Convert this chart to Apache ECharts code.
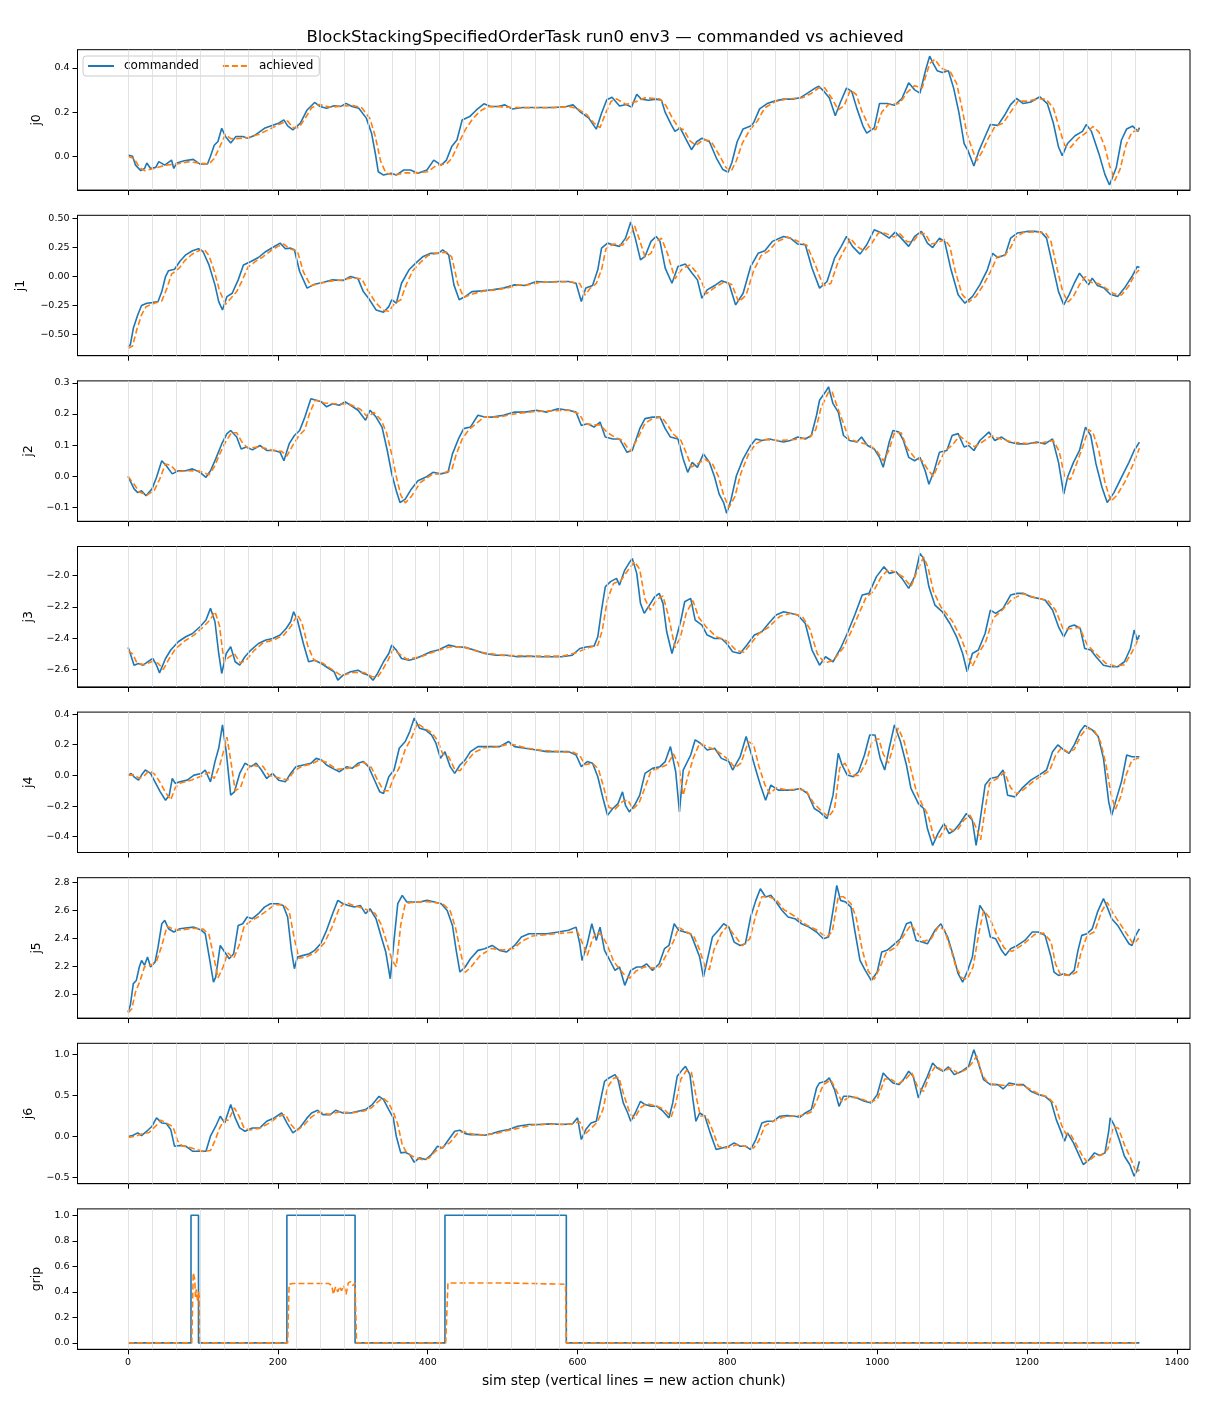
<!DOCTYPE html>
<html>
<head>
<meta charset="utf-8">
<script src="https://cdn.jsdelivr.net/npm/echarts@6.0.0/dist/echarts.min.js"></script>
<style>
  html, body { margin: 0; padding: 0; background: #fff; }
  #chart { width: 1210px; height: 1408px; }
</style>
</head>
<body>
<div id="chart"></div>
<script>
// values, [sim step, value]
var panelNames = ['j0', 'j1', 'j2', 'j3', 'j4', 'j5', 'j6', 'grip'];
var xTicks = [0, 200, 400, 600, 800, 1000, 1200, 1400];
var chunkStarts = [0, 32, 64, 96, 128, 160, 192, 224, 256, 288, 320, 352, 384, 416, 448, 480, 512, 544, 576, 608, 640, 672, 704, 736, 768, 800, 832, 864, 896, 928, 960, 992, 1024, 1056, 1088, 1120, 1152, 1184, 1216, 1248, 1280, 1312, 1344];

var yTicks = [
  [0, 0.2, 0.4],
  [-0.5, -0.25, 0, 0.25, 0.5],
  [-0.1, 0, 0.1, 0.2, 0.3],
  [-2.6, -2.4, -2.2, -2.0],
  [-0.4, -0.2, 0, 0.2, 0.4],
  [2.0, 2.2, 2.4, 2.6, 2.8],
  [-0.5, 0, 0.5, 1.0],
  [0, 0.2, 0.4, 0.6, 0.8, 1.0]
];
var yLimits = [
  [-0.153, 0.483],
  [-0.683, 0.528],
  [-0.144, 0.306],
  [-2.712, -1.813],
  [-0.503, 0.413],
  [1.833, 2.836],
  [-0.573, 1.134],
  [-0.05, 1.05]
];

var cmdJ0 = [[0,0.006],[6,0],[10,-0.04],[17,-0.065],[22,-0.055],[25,-0.03],[30,-0.055],[37,-0.05],[41,-0.024],[49,-0.04],[58,-0.017],[61,-0.055],[65,-0.03],[75,-0.02],[87,-0.014],[96,-0.035],[106,-0.035],[110,0],[115,0.05],[120,0.067],[125,0.127],[130,0.09],[137,0.06],[144,0.09],[153,0.09],[160,0.082],[170,0.097],[182,0.127],[194,0.142],[201,0.15],[208,0.165],[213,0.138],[220,0.12],[230,0.15],[239,0.21],[249,0.244],[256,0.226],[265,0.218],[275,0.229],[284,0.226],[291,0.24],[299,0.226],[308,0.218],[318,0.173],[325,0.105],[330,0.014],[334,-0.07],[341,-0.085],[351,-0.077],[358,-0.085],[368,-0.062],[377,-0.062],[387,-0.077],[399,-0.062],[408,-0.017],[418,-0.04],[425,-0.017],[432,0.044],[439,0.074],[446,0.165],[456,0.18],[465,0.21],[475,0.238],[484,0.226],[494,0.226],[503,0.233],[513,0.214],[527,0.221],[541,0.221],[556,0.221],[570,0.221],[585,0.226],[594,0.233],[603,0.203],[615,0.173],[625,0.123],[632,0.195],[639,0.256],[646,0.268],[656,0.228],[665,0.235],[672,0.223],[679,0.281],[685,0.259],[695,0.254],[705,0.259],[712,0.254],[717,0.199],[725,0.144],[730,0.113],[737,0.129],[744,0.082],[752,0.03],[759,0.066],[766,0.082],[776,0.066],[786,-0.013],[794,-0.06],[801,-0.072],[806,-0.028],[813,0.066],[821,0.124],[831,0.137],[835,0.152],[843,0.215],[853,0.239],[863,0.25],[875,0.259],[887,0.259],[897,0.265],[907,0.286],[917,0.309],[922,0.317],[929,0.294],[936,0.265],[944,0.184],[951,0.246],[959,0.309],[966,0.294],[973,0.215],[981,0.137],[986,0.105],[996,0.129],[1003,0.239],[1013,0.239],[1023,0.231],[1033,0.262],[1042,0.333],[1050,0.301],[1057,0.286],[1065,0.396],[1070,0.454],[1075,0.419],[1080,0.388],[1087,0.38],[1095,0.388],[1102,0.309],[1109,0.199],[1116,0.058],[1121,0.027],[1129,-0.044],[1136,0.027],[1143,0.082],[1151,0.144],[1161,0.14],[1171,0.192],[1178,0.234],[1186,0.262],[1195,0.239],[1205,0.246],[1217,0.27],[1227,0.239],[1235,0.152],[1242,0.042],[1247,0.003],[1254,0.058],[1264,0.093],[1274,0.113],[1279,0.144],[1286,0.113],[1296,0.011],[1304,-0.083],[1310,-0.13],[1319,-0.052],[1326,0.074],[1333,0.124],[1341,0.137],[1348,0.113],[1350,0.13]];
var achJ0 = [[0,0],[8,-0.01],[15,-0.05],[22,-0.065],[35,-0.055],[50,-0.04],[65,-0.035],[80,-0.025],[95,-0.03],[108,-0.035],[115,-0.01],[122,0.04],[130,0.1],[137,0.08],[145,0.08],[160,0.085],[175,0.1],[190,0.125],[205,0.15],[213,0.16],[220,0.13],[228,0.13],[236,0.17],[245,0.22],[255,0.235],[270,0.222],[285,0.228],[300,0.23],[312,0.22],[323,0.17],[330,0.09],[337,-0.02],[344,-0.075],[355,-0.085],[370,-0.075],[385,-0.075],[400,-0.07],[412,-0.04],[425,-0.035],[432,-0.01],[440,0.05],[450,0.12],[460,0.17],[470,0.205],[480,0.225],[495,0.225],[510,0.222],[530,0.22],[560,0.22],[590,0.225],[600,0.215],[612,0.19],[622,0.15],[630,0.13],[638,0.2],[645,0.25],[652,0.26],[665,0.235],[680,0.25],[690,0.265],[710,0.26],[718,0.23],[727,0.17],[735,0.13],[742,0.12],[750,0.07],[758,0.05],[768,0.075],[778,0.07],[790,0.0],[798,-0.05],[805,-0.068],[812,-0.02],[820,0.06],[830,0.12],[840,0.16],[850,0.22],[865,0.25],[880,0.26],[900,0.265],[912,0.285],[922,0.31],[930,0.31],[940,0.26],[948,0.21],[956,0.23],[964,0.3],[972,0.28],[980,0.2],[990,0.13],[998,0.12],[1006,0.2],[1015,0.235],[1030,0.24],[1040,0.29],[1050,0.32],[1060,0.31],[1070,0.42],[1077,0.44],[1085,0.4],[1098,0.38],[1106,0.33],[1113,0.22],[1120,0.1],[1127,0.03],[1133,-0.02],[1140,0.02],[1148,0.08],[1157,0.135],[1168,0.15],[1178,0.2],[1188,0.25],[1200,0.25],[1215,0.26],[1225,0.26],[1235,0.22],[1242,0.14],[1250,0.05],[1258,0.04],[1268,0.08],[1280,0.11],[1288,0.135],[1296,0.11],[1304,0.04],[1310,-0.04],[1317,-0.11],[1324,-0.06],[1332,0.05],[1340,0.11],[1350,0.12]];

var cmdJ1 = [[0,-0.605],[3,-0.59],[7,-0.447],[13,-0.33],[18,-0.25],[25,-0.23],[32,-0.225],[40,-0.216],[45,-0.13],[50,0],[54,0.05],[62,0.063],[69,0.13],[77,0.187],[86,0.222],[94,0.24],[100,0.216],[108,0.1],[116,-0.072],[121,-0.216],[126,-0.288],[132,-0.173],[139,-0.144],[147,-0.029],[154,0.1],[164,0.13],[174,0.164],[184,0.216],[193,0.25],[203,0.288],[210,0.24],[217,0.245],[222,0.23],[229,0.043],[239,-0.1],[249,-0.066],[261,-0.049],[273,-0.029],[287,-0.035],[297,0],[307,-0.02],[314,-0.13],[321,-0.187],[331,-0.288],[341,-0.308],[348,-0.26],[352,-0.2],[358,-0.23],[365,-0.058],[375,0.058],[384,0.115],[394,0.173],[404,0.2],[414,0.2],[420,0.23],[428,0.187],[435,-0.072],[442,-0.2],[450,-0.173],[459,-0.13],[472,-0.124],[486,-0.115],[501,-0.1],[516,-0.072],[530,-0.078],[545,-0.043],[559,-0.049],[574,-0.043],[588,-0.043],[598,-0.058],[605,-0.216],[611,-0.1],[620,-0.078],[627,0.058],[632,0.245],[640,0.288],[647,0.274],[656,0.26],[664,0.331],[671,0.47],[677,0.331],[684,0.144],[690,0.173],[698,0.303],[705,0.346],[710,0.303],[717,0.072],[726,-0.058],[734,0.086],[744,0.107],[753,0.029],[760,-0.029],[766,-0.187],[773,-0.115],[783,-0.078],[792,-0.037],[802,-0.058],[811,-0.245],[821,-0.144],[831,0.086],[841,0.2],[850,0.222],[860,0.303],[875,0.346],[884,0.331],[894,0.28],[904,0.274],[913,0.072],[923,-0.1],[933,-0.043],[943,0.158],[952,0.26],[959,0.346],[967,0.26],[977,0.193],[986,0.274],[996,0.403],[1006,0.375],[1016,0.331],[1024,0.383],[1032,0.331],[1042,0.26],[1050,0.346],[1059,0.389],[1067,0.288],[1074,0.25],[1083,0.331],[1090,0.303],[1098,0.072],[1108,-0.158],[1117,-0.23],[1127,-0.173],[1137,-0.072],[1147,0.058],[1154,0.2],[1161,0.164],[1171,0.187],[1178,0.331],[1187,0.375],[1200,0.389],[1210,0.389],[1219,0.383],[1226,0.331],[1234,0.1],[1242,-0.13],[1249,-0.245],[1256,-0.158],[1263,-0.058],[1270,0.029],[1277,-0.029],[1282,-0.072],[1287,-0.014],[1294,-0.078],[1303,-0.1],[1311,-0.153],[1321,-0.173],[1330,-0.1],[1340,0],[1347,0.086],[1350,0.078]];
var achJ1 = [[0,-0.62],[6,-0.6],[12,-0.45],[18,-0.33],[24,-0.26],[35,-0.23],[45,-0.21],[52,-0.1],[58,0.02],[68,0.07],[76,0.14],[85,0.19],[95,0.225],[102,0.23],[108,0.18],[115,0.05],[122,-0.12],[130,-0.24],[137,-0.19],[145,-0.13],[152,-0.04],[160,0.08],[170,0.13],[180,0.17],[190,0.22],[200,0.26],[208,0.28],[215,0.24],[226,0.22],[234,0.04],[244,-0.08],[255,-0.06],[270,-0.04],[285,-0.03],[300,-0.01],[312,-0.02],[320,-0.12],[330,-0.22],[340,-0.29],[348,-0.3],[356,-0.23],[364,-0.2],[372,-0.06],[380,0.05],[390,0.12],[400,0.18],[412,0.2],[425,0.21],[432,0.17],[440,-0.06],[448,-0.18],[460,-0.15],[475,-0.125],[490,-0.115],[505,-0.1],[520,-0.075],[535,-0.07],[550,-0.05],[570,-0.047],[590,-0.045],[603,-0.06],[610,-0.16],[617,-0.1],[625,-0.06],[632,0.06],[638,0.24],[648,0.28],[660,0.27],[670,0.35],[676,0.44],[682,0.33],[690,0.17],[698,0.2],[705,0.3],[712,0.33],[720,0.2],[730,-0.02],[740,0.07],[750,0.1],[758,0.04],[766,-0.05],[772,-0.15],[782,-0.1],[795,-0.05],[806,-0.07],[815,-0.22],[825,-0.16],[835,0.05],[845,0.18],[855,0.22],[866,0.3],[880,0.34],[892,0.31],[906,0.27],[918,0.09],[928,-0.08],[938,-0.06],[948,0.13],[957,0.24],[964,0.33],[973,0.26],[983,0.22],[992,0.28],[1002,0.38],[1012,0.37],[1022,0.34],[1030,0.37],[1040,0.3],[1048,0.3],[1056,0.37],[1064,0.37],[1072,0.28],[1080,0.29],[1090,0.32],[1097,0.26],[1104,0.05],[1113,-0.15],[1122,-0.22],[1132,-0.17],[1142,-0.07],[1152,0.05],[1160,0.17],[1170,0.18],[1178,0.25],[1185,0.34],[1195,0.38],[1210,0.385],[1225,0.375],[1232,0.3],[1240,0.07],[1248,-0.14],[1255,-0.22],[1262,-0.17],[1270,-0.07],[1278,0],[1285,-0.05],[1295,-0.06],[1305,-0.1],[1316,-0.15],[1326,-0.16],[1336,-0.08],[1344,0.02],[1350,0.06]];

var cmdJ2 = [[0,0],[4,-0.02],[8,-0.04],[13,-0.052],[18,-0.046],[24,-0.062],[32,-0.04],[38,-0.003],[45,0.05],[51,0.034],[59,0.008],[67,0.018],[77,0.018],[86,0.024],[96,0.013],[104,-0.003],[110,0.018],[117,0.056],[125,0.104],[132,0.137],[137,0.147],[145,0.126],[151,0.088],[158,0.094],[166,0.085],[176,0.099],[185,0.083],[195,0.083],[203,0.077],[208,0.05],[215,0.104],[222,0.131],[229,0.147],[236,0.19],[244,0.249],[251,0.244],[258,0.239],[265,0.223],[273,0.233],[282,0.228],[290,0.239],[297,0.228],[307,0.212],[317,0.18],[323,0.212],[331,0.19],[339,0.158],[346,0.083],[352,0.008],[358,-0.046],[363,-0.084],[370,-0.073],[378,-0.041],[387,-0.014],[397,-0.003],[407,0.013],[417,0.008],[427,0.013],[433,0.072],[441,0.12],[448,0.153],[457,0.158],[467,0.196],[476,0.19],[486,0.19],[501,0.196],[516,0.206],[530,0.206],[545,0.212],[559,0.206],[574,0.217],[588,0.212],[598,0.206],[605,0.163],[613,0.169],[622,0.158],[630,0.174],[637,0.126],[647,0.12],[656,0.12],[666,0.077],[673,0.083],[683,0.153],[690,0.185],[700,0.19],[710,0.19],[717,0.153],[724,0.126],[734,0.12],[741,0.056],[747,0.013],[753,0.045],[760,0.029],[768,0.072],[776,0.045],[783,-0.003],[789,-0.057],[795,-0.084],[799,-0.118],[805,-0.073],[812,0.002],[821,0.056],[831,0.099],[838,0.12],[846,0.115],[856,0.12],[865,0.115],[875,0.11],[884,0.115],[894,0.126],[904,0.12],[912,0.131],[919,0.196],[923,0.244],[931,0.271],[935,0.287],[941,0.233],[948,0.206],[955,0.131],[963,0.115],[973,0.11],[979,0.126],[987,0.099],[996,0.088],[1003,0.061],[1008,0.029],[1016,0.11],[1021,0.147],[1029,0.142],[1035,0.115],[1042,0.061],[1050,0.05],[1057,0.061],[1064,0.018],[1069,-0.025],[1076,0.018],[1083,0.077],[1093,0.083],[1100,0.131],[1108,0.137],[1116,0.094],[1122,0.099],[1129,0.083],[1137,0.115],[1149,0.142],[1157,0.115],[1166,0.126],[1176,0.11],[1188,0.104],[1200,0.104],[1213,0.11],[1224,0.104],[1234,0.12],[1242,0.045],[1249,-0.057],[1254,-0.003],[1262,0.045],[1270,0.083],[1278,0.158],[1285,0.131],[1292,0.04],[1300,-0.035],[1307,-0.084],[1316,-0.052],[1326,-0.003],[1336,0.045],[1343,0.083],[1350,0.11]];
var achJ2 = [[0,0],[8,-0.025],[15,-0.05],[25,-0.06],[35,-0.045],[42,-0.01],[50,0.04],[57,0.035],[65,0.015],[80,0.018],[95,0.017],[108,0.005],[115,0.03],[122,0.07],[130,0.11],[138,0.14],[145,0.14],[152,0.11],[160,0.09],[175,0.095],[190,0.085],[205,0.08],[212,0.065],[220,0.1],[228,0.13],[236,0.15],[242,0.2],[250,0.245],[262,0.235],[280,0.232],[295,0.232],[310,0.215],[320,0.19],[328,0.205],[338,0.18],[345,0.14],[352,0.07],[358,0],[364,-0.06],[370,-0.085],[378,-0.065],[390,-0.02],[405,0.005],[420,0.01],[432,0.02],[438,0.07],[446,0.12],[455,0.15],[465,0.17],[475,0.19],[495,0.19],[515,0.2],[540,0.207],[565,0.21],[590,0.212],[602,0.2],[610,0.17],[620,0.165],[630,0.165],[640,0.14],[650,0.125],[660,0.115],[670,0.08],[680,0.12],[690,0.17],[700,0.185],[712,0.19],[720,0.165],[728,0.135],[738,0.115],[746,0.07],[752,0.03],[760,0.04],[770,0.055],[780,0.04],[788,0],[795,-0.06],[802,-0.1],[810,-0.065],[818,0.01],[828,0.07],[838,0.105],[850,0.118],[870,0.115],[890,0.118],[910,0.125],[918,0.15],[925,0.22],[935,0.27],[940,0.27],[947,0.22],[955,0.17],[962,0.12],[975,0.11],[990,0.1],[1000,0.08],[1008,0.05],[1015,0.08],[1023,0.14],[1032,0.14],[1040,0.09],[1050,0.06],[1060,0.05],[1068,0.02],[1075,0],[1082,0.04],[1090,0.08],[1100,0.1],[1110,0.13],[1120,0.11],[1130,0.095],[1140,0.11],[1152,0.13],[1165,0.12],[1180,0.11],[1200,0.105],[1220,0.108],[1235,0.115],[1243,0.08],[1250,0],[1258,-0.01],[1266,0.04],[1275,0.1],[1282,0.15],[1288,0.14],[1296,0.08],[1304,-0.02],[1312,-0.08],[1320,-0.06],[1330,-0.02],[1340,0.03],[1350,0.09]];

var cmdJ3 = [[0,-2.459],[3,-2.498],[8,-2.573],[14,-2.562],[20,-2.573],[28,-2.545],[33,-2.53],[38,-2.573],[42,-2.622],[50,-2.53],[57,-2.476],[67,-2.423],[77,-2.391],[86,-2.37],[96,-2.327],[104,-2.284],[110,-2.209],[116,-2.295],[121,-2.498],[125,-2.626],[131,-2.498],[137,-2.455],[143,-2.551],[149,-2.573],[156,-2.519],[164,-2.476],[174,-2.434],[184,-2.412],[193,-2.402],[203,-2.38],[211,-2.338],[217,-2.295],[221,-2.231],[226,-2.284],[234,-2.434],[241,-2.551],[249,-2.541],[258,-2.562],[268,-2.594],[275,-2.615],[280,-2.669],[287,-2.637],[297,-2.615],[307,-2.605],[314,-2.626],[321,-2.637],[327,-2.669],[333,-2.626],[341,-2.551],[348,-2.498],[352,-2.444],[358,-2.476],[365,-2.53],[375,-2.541],[384,-2.53],[394,-2.509],[404,-2.487],[414,-2.476],[428,-2.444],[438,-2.455],[450,-2.459],[462,-2.476],[476,-2.498],[491,-2.509],[505,-2.509],[520,-2.519],[535,-2.515],[549,-2.519],[564,-2.519],[579,-2.519],[593,-2.509],[603,-2.466],[613,-2.455],[622,-2.451],[627,-2.391],[632,-2.22],[637,-2.071],[644,-2.038],[652,-2.017],[656,-2.06],[663,-1.964],[670,-1.91],[673,-1.889],[679,-1.985],[684,-2.177],[689,-2.241],[696,-2.188],[703,-2.135],[709,-2.113],[714,-2.177],[719,-2.359],[726,-2.498],[731,-2.412],[738,-2.284],[743,-2.167],[751,-2.145],[757,-2.284],[766,-2.316],[773,-2.38],[783,-2.402],[792,-2.402],[799,-2.434],[807,-2.487],[817,-2.498],[826,-2.444],[836,-2.38],[846,-2.359],[855,-2.306],[865,-2.252],[875,-2.231],[884,-2.241],[894,-2.252],[904,-2.306],[913,-2.476],[923,-2.573],[931,-2.519],[941,-2.551],[951,-2.466],[960,-2.37],[970,-2.252],[980,-2.124],[989,-2.113],[999,-2.006],[1009,-1.942],[1016,-1.985],[1025,-1.974],[1033,-2.017],[1042,-2.081],[1050,-2.006],[1057,-1.857],[1062,-1.889],[1069,-2.071],[1077,-2.188],[1087,-2.231],[1097,-2.306],[1106,-2.391],[1114,-2.498],[1120,-2.615],[1127,-2.498],[1135,-2.476],[1144,-2.37],[1151,-2.22],[1158,-2.241],[1168,-2.209],[1178,-2.124],[1187,-2.113],[1195,-2.113],[1205,-2.135],[1215,-2.145],[1224,-2.156],[1234,-2.22],[1242,-2.327],[1249,-2.391],[1256,-2.327],[1263,-2.316],[1271,-2.338],[1277,-2.466],[1285,-2.476],[1292,-2.519],[1302,-2.573],[1311,-2.583],[1321,-2.583],[1330,-2.551],[1338,-2.466],[1343,-2.348],[1347,-2.412],[1350,-2.38]];
var achJ3 = [[0,-2.48],[6,-2.5],[12,-2.56],[22,-2.57],[32,-2.55],[40,-2.56],[47,-2.6],[55,-2.53],[63,-2.47],[75,-2.42],[88,-2.38],[100,-2.33],[110,-2.28],[116,-2.23],[122,-2.32],[128,-2.55],[135,-2.52],[142,-2.5],[150,-2.56],[158,-2.54],[168,-2.48],[180,-2.43],[195,-2.41],[208,-2.38],[218,-2.32],[226,-2.25],[232,-2.3],[240,-2.45],[248,-2.54],[260,-2.56],[272,-2.6],[285,-2.64],[300,-2.62],[315,-2.62],[325,-2.645],[333,-2.65],[340,-2.6],[347,-2.54],[354,-2.47],[362,-2.5],[372,-2.535],[390,-2.52],[410,-2.485],[430,-2.455],[450,-2.46],[470,-2.49],[500,-2.51],[540,-2.515],[580,-2.515],[600,-2.49],[615,-2.46],[627,-2.445],[633,-2.35],[640,-2.15],[648,-2.05],[658,-2.03],[668,-1.96],[676,-1.91],[683,-1.96],[690,-2.15],[697,-2.22],[706,-2.15],[714,-2.13],[721,-2.25],[730,-2.46],[737,-2.4],[745,-2.24],[754,-2.16],[762,-2.27],[772,-2.33],[785,-2.39],[800,-2.42],[812,-2.48],[822,-2.49],[832,-2.43],[842,-2.37],[855,-2.33],[870,-2.26],[885,-2.24],[900,-2.26],[910,-2.34],[920,-2.5],[930,-2.56],[942,-2.54],[955,-2.46],[965,-2.36],[975,-2.25],[985,-2.14],[995,-2.1],[1005,-2.01],[1015,-1.96],[1025,-1.98],[1035,-2.01],[1045,-2.07],[1055,-1.95],[1062,-1.88],[1068,-1.95],[1075,-2.1],[1085,-2.2],[1100,-2.29],[1112,-2.4],[1120,-2.5],[1127,-2.58],[1135,-2.5],[1145,-2.42],[1155,-2.27],[1165,-2.23],[1180,-2.15],[1195,-2.115],[1210,-2.14],[1228,-2.16],[1238,-2.22],[1248,-2.34],[1258,-2.34],[1270,-2.33],[1280,-2.44],[1292,-2.5],[1305,-2.56],[1318,-2.58],[1330,-2.57],[1340,-2.49],[1347,-2.42],[1350,-2.4]];

var cmdJ4 = [[0,0],[4,0.013],[8,-0.009],[14,-0.031],[18,0.002],[23,0.035],[30,0.013],[37,-0.052],[43,-0.107],[50,-0.162],[55,-0.129],[59,-0.02],[63,-0.052],[69,-0.042],[79,-0.031],[88,0.002],[98,0.013],[103,0.035],[110,-0.042],[116,0.09],[121,0.177],[126,0.33],[131,0.155],[137,-0.129],[142,-0.107],[149,0.013],[156,0.079],[164,0.057],[171,0.079],[178,0.035],[185,-0.02],[193,0.013],[201,-0.031],[210,-0.042],[217,0.013],[224,0.057],[234,0.068],[244,0.079],[251,0.111],[258,0.101],[265,0.068],[273,0.046],[282,0.024],[292,0.057],[299,0.046],[307,0.079],[314,0.09],[321,0.057],[328,-0.02],[336,-0.107],[341,-0.118],[348,-0.009],[355,0.035],[362,0.177],[370,0.221],[376,0.286],[382,0.374],[389,0.308],[397,0.297],[405,0.264],[411,0.21],[417,0.111],[423,0.155],[430,0.057],[436,0.013],[443,0.068],[450,0.101],[457,0.155],[467,0.188],[482,0.188],[496,0.188],[508,0.221],[516,0.188],[530,0.177],[545,0.166],[559,0.155],[574,0.155],[588,0.155],[598,0.133],[605,0.057],[613,0.09],[620,0.079],[627,-0.009],[634,-0.151],[640,-0.26],[647,-0.216],[654,-0.184],[660,-0.107],[664,-0.195],[669,-0.238],[676,-0.195],[683,-0.129],[690,0.013],[700,0.046],[710,0.057],[717,0.09],[724,0.188],[731,0.024],[736,-0.238],[741,0.035],[751,0.133],[757,0.232],[764,0.21],[773,0.166],[783,0.177],[792,0.111],[802,0.09],[807,0.035],[817,0.122],[825,0.254],[831,0.155],[838,0.035],[844,-0.063],[851,-0.162],[858,-0.063],[868,-0.096],[877,-0.096],[887,-0.096],[897,-0.085],[907,-0.118],[916,-0.216],[923,-0.238],[933,-0.282],[941,-0.129],[948,0.144],[953,0.068],[960,0.002],[968,-0.009],[975,0.024],[983,0.133],[990,0.264],[997,0.264],[1004,0.111],[1010,0.035],[1016,0.177],[1023,0.33],[1031,0.221],[1039,0.068],[1045,-0.085],[1055,-0.184],[1062,-0.216],[1067,-0.347],[1074,-0.457],[1081,-0.38],[1089,-0.315],[1096,-0.38],[1103,-0.358],[1110,-0.315],[1119,-0.249],[1127,-0.293],[1132,-0.457],[1137,-0.304],[1144,-0.063],[1151,-0.02],[1161,-0.009],[1168,0.035],[1174,-0.129],[1184,-0.14],[1193,-0.085],[1205,-0.031],[1216,0.002],[1226,0.035],[1234,0.155],[1241,0.199],[1249,0.166],[1256,0.144],[1263,0.199],[1271,0.286],[1277,0.326],[1287,0.297],[1295,0.254],[1302,0.111],[1309,-0.173],[1313,-0.26],[1320,-0.14],[1326,-0.042],[1333,0.133],[1340,0.122],[1350,0.122]];
var achJ4 = [[0,0],[8,0.005],[15,-0.02],[22,0],[28,0.03],[35,0.01],[42,-0.04],[50,-0.11],[57,-0.16],[63,-0.08],[70,-0.05],[85,-0.03],[100,0],[108,0.02],[115,-0.02],[122,0.06],[127,0.15],[132,0.25],[137,0.1],[143,-0.1],[150,-0.08],[157,0.02],[164,0.07],[172,0.06],[180,0.06],[188,0],[196,-0.01],[205,-0.02],[213,-0.03],[222,0.03],[232,0.06],[245,0.075],[255,0.1],[265,0.085],[278,0.04],[292,0.045],[305,0.06],[315,0.085],[325,0.05],[333,-0.03],[341,-0.1],[348,-0.1],[355,-0.01],[362,0.05],[370,0.17],[378,0.24],[386,0.34],[395,0.31],[405,0.28],[413,0.23],[420,0.14],[428,0.12],[436,0.04],[443,0.03],[452,0.09],[462,0.15],[475,0.18],[490,0.185],[505,0.2],[515,0.2],[530,0.18],[550,0.165],[575,0.155],[595,0.15],[603,0.13],[610,0.07],[620,0.08],[628,0.04],[635,-0.08],[642,-0.21],[650,-0.22],[660,-0.17],[667,-0.16],[674,-0.22],[682,-0.18],[690,-0.08],[698,0.03],[710,0.05],[720,0.07],[728,0.14],[735,0.07],[741,-0.13],[747,-0.01],[755,0.12],[763,0.21],[772,0.19],[782,0.17],[792,0.14],[802,0.1],[810,0.05],[818,0.08],[828,0.22],[835,0.2],[842,0.06],[850,-0.06],[857,-0.12],[865,-0.08],[880,-0.095],[895,-0.09],[905,-0.1],[915,-0.18],[925,-0.23],[935,-0.27],[943,-0.22],[950,0.05],[957,0.08],[965,0],[975,0],[985,0.08],[993,0.22],[1002,0.24],[1008,0.14],[1015,0.08],[1022,0.2],[1028,0.31],[1036,0.22],[1044,0.06],[1052,-0.1],[1060,-0.19],[1068,-0.26],[1076,-0.41],[1084,-0.4],[1092,-0.33],[1100,-0.36],[1108,-0.35],[1116,-0.29],[1124,-0.26],[1132,-0.34],[1138,-0.42],[1144,-0.22],[1150,-0.05],[1160,-0.02],[1170,0.02],[1178,-0.08],[1186,-0.12],[1196,-0.09],[1208,-0.04],[1220,0],[1230,0.03],[1238,0.13],[1246,0.18],[1255,0.15],[1263,0.17],[1272,0.26],[1280,0.31],[1290,0.29],[1298,0.22],[1305,0.08],[1312,-0.12],[1318,-0.22],[1325,-0.14],[1332,0],[1340,0.1],[1350,0.115]];

var cmdJ5 = [[0,1.876],[3,1.924],[7,2.079],[11,2.102],[15,2.198],[18,2.245],[22,2.21],[26,2.269],[30,2.198],[36,2.233],[40,2.34],[45,2.507],[49,2.531],[54,2.471],[61,2.448],[69,2.471],[79,2.479],[88,2.483],[98,2.46],[103,2.436],[108,2.281],[114,2.09],[117,2.126],[123,2.352],[129,2.305],[135,2.257],[141,2.293],[147,2.495],[153,2.507],[159,2.555],[166,2.543],[174,2.579],[182,2.626],[190,2.65],[200,2.65],[207,2.638],[213,2.555],[218,2.317],[222,2.186],[226,2.269],[234,2.281],[242,2.293],[249,2.317],[257,2.364],[265,2.46],[273,2.579],[280,2.674],[287,2.65],[294,2.638],[302,2.626],[310,2.638],[317,2.579],[323,2.614],[331,2.543],[338,2.412],[344,2.305],[350,2.114],[355,2.388],[360,2.65],[366,2.71],[372,2.662],[380,2.662],[389,2.662],[399,2.674],[409,2.662],[418,2.65],[426,2.602],[433,2.495],[438,2.317],[443,2.162],[450,2.198],[457,2.257],[467,2.317],[476,2.329],[486,2.352],[496,2.317],[505,2.305],[516,2.352],[525,2.412],[535,2.436],[546,2.436],[559,2.436],[574,2.448],[588,2.46],[598,2.483],[603,2.364],[606,2.245],[613,2.364],[619,2.507],[625,2.388],[630,2.483],[636,2.317],[642,2.257],[650,2.174],[656,2.198],[663,2.067],[671,2.174],[679,2.198],[686,2.198],[692,2.221],[700,2.174],[709,2.221],[716,2.329],[722,2.352],[729,2.507],[735,2.46],[743,2.448],[751,2.436],[758,2.34],[763,2.269],[768,2.126],[774,2.269],[780,2.412],[788,2.46],[795,2.507],[802,2.483],[809,2.376],[817,2.352],[824,2.364],[831,2.555],[838,2.674],[844,2.757],[851,2.698],[858,2.71],[865,2.662],[873,2.602],[881,2.555],[890,2.543],[899,2.507],[909,2.483],[919,2.448],[928,2.4],[935,2.412],[941,2.602],[946,2.781],[951,2.674],[958,2.662],[965,2.626],[970,2.46],[977,2.245],[984,2.174],[992,2.102],[1000,2.162],[1006,2.305],[1013,2.317],[1021,2.352],[1031,2.4],[1039,2.507],[1045,2.519],[1052,2.388],[1060,2.376],[1067,2.364],[1077,2.46],[1085,2.507],[1094,2.412],[1102,2.269],[1108,2.15],[1114,2.09],[1120,2.162],[1127,2.269],[1132,2.471],[1137,2.638],[1144,2.579],[1151,2.412],[1158,2.4],[1166,2.317],[1171,2.281],[1178,2.329],[1187,2.352],[1197,2.388],[1207,2.448],[1215,2.448],[1224,2.424],[1232,2.269],[1236,2.162],[1242,2.138],[1249,2.15],[1256,2.138],[1263,2.174],[1268,2.317],[1273,2.424],[1280,2.436],[1287,2.471],[1294,2.59],[1302,2.686],[1307,2.626],[1313,2.543],[1321,2.495],[1329,2.424],[1336,2.364],[1340,2.352],[1345,2.424],[1350,2.471]];
var achJ5 = [[0,1.87],[5,1.9],[10,2.02],[16,2.1],[22,2.2],[30,2.21],[38,2.24],[45,2.35],[52,2.49],[60,2.47],[70,2.46],[85,2.475],[100,2.47],[108,2.43],[114,2.28],[120,2.12],[127,2.2],[133,2.3],[141,2.26],[148,2.35],[155,2.49],[165,2.53],[175,2.56],[185,2.6],[195,2.64],[207,2.645],[215,2.6],[222,2.4],[228,2.26],[238,2.27],[250,2.3],[262,2.37],[272,2.48],[282,2.62],[290,2.66],[300,2.64],[312,2.62],[322,2.6],[330,2.58],[338,2.5],[345,2.38],[352,2.25],[358,2.2],[364,2.5],[370,2.65],[380,2.66],[400,2.665],[420,2.65],[430,2.6],[437,2.48],[444,2.3],[450,2.16],[458,2.2],[470,2.28],[485,2.33],[500,2.32],[515,2.33],[525,2.38],[540,2.42],[560,2.43],[580,2.44],[600,2.45],[608,2.35],[613,2.28],[620,2.4],[626,2.45],[633,2.42],[640,2.35],[648,2.24],[655,2.19],[663,2.14],[670,2.12],[678,2.17],[690,2.2],[700,2.19],[710,2.2],[720,2.3],[728,2.38],[735,2.48],[745,2.45],[755,2.42],[763,2.32],[770,2.2],[776,2.18],[782,2.32],[792,2.44],[800,2.49],[810,2.42],[820,2.35],[830,2.4],[838,2.57],[846,2.7],[855,2.7],[865,2.68],[875,2.61],[890,2.56],[905,2.5],[920,2.46],[932,2.41],[940,2.45],[948,2.7],[955,2.7],[965,2.65],[972,2.55],[980,2.32],[988,2.17],[996,2.11],[1004,2.2],[1012,2.3],[1025,2.34],[1035,2.42],[1045,2.5],[1052,2.45],[1062,2.38],[1072,2.4],[1082,2.49],[1090,2.46],[1098,2.33],[1105,2.2],[1113,2.12],[1120,2.11],[1128,2.2],[1136,2.45],[1142,2.6],[1150,2.55],[1160,2.42],[1170,2.33],[1180,2.31],[1195,2.36],[1210,2.43],[1222,2.44],[1232,2.38],[1238,2.22],[1245,2.14],[1258,2.14],[1266,2.16],[1272,2.3],[1280,2.42],[1290,2.45],[1300,2.6],[1307,2.66],[1315,2.58],[1325,2.5],[1335,2.42],[1342,2.36],[1350,2.41]];

var cmdJ6 = [[0,0],[6,0.012],[13,0.045],[18,0.012],[25,0.065],[32,0.126],[38,0.227],[45,0.166],[51,0.158],[57,0.085],[62,-0.117],[69,-0.109],[77,-0.117],[86,-0.178],[96,-0.178],[104,-0.178],[110,0.004],[117,0.126],[123,0.247],[129,0.166],[137,0.389],[143,0.227],[149,0.105],[156,0.065],[166,0.105],[176,0.105],[185,0.186],[195,0.227],[205,0.287],[212,0.166],[220,0.045],[229,0.105],[239,0.227],[245,0.287],[253,0.32],[260,0.267],[270,0.267],[277,0.32],[287,0.287],[297,0.287],[307,0.308],[317,0.328],[326,0.389],[335,0.49],[341,0.449],[348,0.328],[354,0.227],[358,0.004],[364,-0.198],[370,-0.19],[376,-0.219],[382,-0.312],[389,-0.259],[397,-0.279],[405,-0.219],[413,-0.117],[420,-0.138],[428,-0.036],[436,0.065],[443,0.077],[450,0.036],[457,0.024],[467,0.024],[476,0.016],[486,0.036],[496,0.065],[508,0.085],[520,0.126],[535,0.146],[549,0.146],[564,0.154],[579,0.146],[593,0.154],[600,0.227],[605,-0.036],[611,0.085],[618,0.166],[625,0.186],[630,0.409],[636,0.672],[642,0.713],[650,0.753],[654,0.692],[661,0.409],[667,0.287],[671,0.186],[677,0.287],[684,0.429],[690,0.389],[698,0.368],[706,0.368],[714,0.308],[722,0.227],[727,0.409],[733,0.733],[740,0.814],[744,0.854],[750,0.753],[754,0.449],[758,0.186],[763,0.287],[770,0.247],[777,0.045],[785,-0.158],[793,-0.138],[802,-0.117],[809,-0.077],[817,-0.117],[824,-0.117],[831,-0.158],[838,-0.036],[846,0.166],[853,0.186],[861,0.186],[870,0.247],[880,0.255],[890,0.247],[897,0.235],[904,0.287],[912,0.328],[919,0.591],[923,0.652],[931,0.672],[936,0.713],[943,0.571],[949,0.368],[955,0.49],[963,0.49],[973,0.47],[983,0.429],[992,0.409],[1000,0.51],[1008,0.773],[1014,0.713],[1021,0.652],[1029,0.632],[1035,0.692],[1042,0.794],[1048,0.733],[1055,0.47],[1059,0.571],[1067,0.733],[1074,0.895],[1080,0.834],[1088,0.794],[1095,0.846],[1103,0.753],[1113,0.794],[1122,0.854],[1129,1.057],[1135,0.895],[1142,0.692],[1151,0.632],[1161,0.632],[1168,0.579],[1176,0.652],[1186,0.632],[1195,0.632],[1205,0.551],[1215,0.51],[1224,0.49],[1232,0.429],[1239,0.206],[1246,0.045],[1250,-0.057],[1254,0.045],[1262,-0.077],[1268,-0.198],[1275,-0.34],[1283,-0.279],[1290,-0.198],[1297,-0.231],[1304,-0.198],[1309,0.065],[1311,0.227],[1316,0.146],[1323,-0.036],[1330,-0.239],[1337,-0.34],[1343,-0.482],[1347,-0.401],[1350,-0.3]];
var achJ6 = [[0,-0.01],[8,0],[18,0.03],[28,0.05],[36,0.12],[44,0.2],[52,0.16],[60,0.12],[66,-0.05],[72,-0.11],[85,-0.14],[100,-0.18],[110,-0.17],[116,-0.05],[122,0.1],[128,0.2],[134,0.2],[142,0.35],[148,0.25],[155,0.1],[163,0.08],[175,0.1],[188,0.16],[200,0.24],[210,0.27],[218,0.14],[225,0.07],[235,0.14],[245,0.24],[255,0.3],[268,0.27],[282,0.3],[300,0.29],[315,0.31],[325,0.35],[333,0.42],[340,0.47],[347,0.42],[354,0.3],[360,0.15],[366,-0.1],[372,-0.2],[382,-0.25],[392,-0.28],[402,-0.26],[410,-0.18],[420,-0.13],[430,-0.07],[440,0.04],[448,0.06],[460,0.03],[475,0.02],[490,0.035],[505,0.07],[520,0.1],[540,0.14],[560,0.15],[590,0.15],[603,0.18],[610,0.03],[618,0.1],[626,0.17],[634,0.33],[640,0.6],[648,0.71],[655,0.72],[662,0.5],[670,0.28],[676,0.22],[684,0.35],[692,0.4],[705,0.37],[716,0.33],[725,0.24],[731,0.4],[738,0.7],[745,0.8],[752,0.78],[758,0.5],[764,0.25],[772,0.25],[780,0.08],[788,-0.12],[798,-0.14],[812,-0.1],[825,-0.12],[835,-0.14],[842,-0.05],[850,0.13],[860,0.18],[875,0.24],[890,0.25],[902,0.26],[912,0.3],[920,0.45],[928,0.63],[938,0.69],[946,0.55],[953,0.42],[962,0.48],[975,0.47],[990,0.42],[1000,0.45],[1010,0.7],[1018,0.7],[1028,0.64],[1038,0.7],[1046,0.78],[1054,0.6],[1062,0.55],[1070,0.75],[1078,0.86],[1088,0.8],[1098,0.83],[1108,0.77],[1120,0.82],[1127,0.9],[1133,0.98],[1140,0.75],[1148,0.65],[1160,0.63],[1172,0.62],[1185,0.63],[1195,0.62],[1205,0.57],[1215,0.52],[1228,0.48],[1238,0.38],[1246,0.14],[1252,0.03],[1258,0.03],[1266,-0.1],[1273,-0.22],[1280,-0.31],[1290,-0.24],[1300,-0.22],[1308,-0.15],[1315,0.12],[1322,0.1],[1330,-0.1],[1338,-0.26],[1346,-0.44],[1350,-0.4]];

var cmdGrip = [[0,0],[84,0],[84,1],[94,1],[94,0],[212,0],[212,1],[303,1],[303,0],[423,0],[423,1],[585,1],[585,0],[1350,0]];
var achGrip = [[0,0],[85,0],[87,0.55],[89,0.5],[90,0.36],[91,0.42],[93,0.32],[94,0.4],[95,0.36],[96,0],[213,0],[215,0.46],[220,0.465],[268,0.465],[272,0.45],[274,0.38],[277,0.44],[280,0.4],[282,0.44],[285,0.41],[288,0.45],[291,0.38],[294,0.47],[297,0.48],[300,0.45],[303,0.47],[305,0],[424,0],[427,0.47],[440,0.47],[500,0.47],[540,0.465],[584,0.46],[585,0],[1350,0]];

var commanded = [cmdJ0, cmdJ1, cmdJ2, cmdJ3, cmdJ4, cmdJ5, cmdJ6, cmdGrip];
var achieved = [achJ0, achJ1, achJ2, achJ3, achJ4, achJ5, achJ6, achGrip];

document.addEventListener("DOMContentLoaded", function() {

  var chartDom = document.getElementById('chart');
  var myChart = echarts.init(chartDom);
  var option;

  var FONT = 'DejaVu Sans';
  var tickDecimals = [1, 2, 1, 1, 1, 1, 1, 1];
  var nameGaps = [34, 50, 42, 42, 42, 34, 42, 33];
  var top0 = 49.7, step = 165.6, plotH = 140.4;

  var grids = [], xAxes = [], yAxes = [], series = [];

  for (var i = 0; i < panelNames.length; i++) {
    var last = (i === panelNames.length - 1);
    grids.push({
      left: 77.5,
      right: 20,
      top: top0 + i * step,
      height: plotH,
      show: true,
      borderColor: '#000',
      borderWidth: 1,
      outerBoundsMode: 'none'
    });

    xAxes.push({
      type: 'value',
      gridIndex: i,
      min: -67.5,
      max: 1417.5,
      axisLine: { show: true, onZero: false, lineStyle: { color: '#000', width: 1 } },
      axisTick: { show: true, length: 5, customValues: xTicks, lineStyle: { color: '#000', width: 1 } },
      axisLabel: {
        show: last,
        customValues: xTicks,
        margin: 8,
        color: '#000',
        fontFamily: FONT,
        fontSize: 9.5,
        formatter: function (v) { return String(v); }
      },
      splitLine: { show: false },
      name: last ? 'sim step (vertical lines = new action chunk)' : '',
      nameLocation: 'middle',
      nameGap: 25,
      nameTextStyle: { color: '#000', fontFamily: FONT, fontSize: 13.8 }
    });

    (function (dec) {
      yAxes.push({
        type: 'value',
        gridIndex: i,
        min: yLimits[i][0],
        max: yLimits[i][1],
        axisLine: { show: true, onZero: false, lineStyle: { color: '#000', width: 1 } },
        axisTick: { show: true, length: 5, customValues: yTicks[i], lineStyle: { color: '#000', width: 1 } },
        axisLabel: {
          customValues: yTicks[i],
          margin: 8,
          color: '#000',
          fontFamily: FONT,
          fontSize: 9.5,
          formatter: function (v) {
            return v.toFixed(dec).replace('-', '\u2212');
          }
        },
        splitLine: { show: false },
        name: panelNames[i],
        nameLocation: 'middle',
        nameRotate: 90,
        nameGap: nameGaps[i],
        nameTextStyle: { color: '#000', fontFamily: FONT, fontSize: 12.5 }
      });
    })(tickDecimals[i]);

    // gray line at each new action chunk
    series.push({
      type: 'line',
      xAxisIndex: i,
      yAxisIndex: i,
      data: [],
      silent: true,
      z: 1,
      markLine: {
        silent: true,
        symbol: ['none', 'none'],
        label: { show: false },
        animation: false,
        lineStyle: { color: '#dcdcdc', width: 0.8, type: 'solid' },
        data: chunkStarts.map(function (s) { return { xAxis: s }; })
      }
    });

    series.push({
      name: 'commanded',
      type: 'line',
      xAxisIndex: i,
      yAxisIndex: i,
      data: commanded[i],
      symbol: 'none',
      showSymbol: false,
      z: 2,
      lineStyle: { color: '#1f77b4', width: 1.6 },
      itemStyle: { color: '#1f77b4' }
    });

    series.push({
      name: 'achieved',
      type: 'line',
      xAxisIndex: i,
      yAxisIndex: i,
      data: achieved[i],
      symbol: 'none',
      showSymbol: false,
      z: 3,
      lineStyle: { color: '#ff7f0e', width: 1.6, type: [6, 3] },
      itemStyle: { color: '#ff7f0e' }
    });
  }

  option = {
    animation: false,
    backgroundColor: '#fff',
    title: {
      text: 'BlockStackingSpecifiedOrderTask run0 env3 \u2014 commanded vs achieved',
      left: 'center',
      top: 24,
      textStyle: { color: '#000', fontFamily: FONT, fontSize: 16.5, fontWeight: 'normal' }
    },
    legend: {
      data: ['commanded', 'achieved'],
      left: 83,
      top: 56,
      orient: 'horizontal',
      itemWidth: 26,
      itemHeight: 10,
      itemGap: 23,
      padding: [4, 6, 4, 4],
      borderColor: '#cccccc',
      borderWidth: 1,
      borderRadius: 3,
      backgroundColor: 'rgba(255,255,255,0.8)',
      itemStyle: { opacity: 0 },
      textStyle: { color: '#000', fontFamily: FONT, fontSize: 12, padding: [0, 0, 0, 5] }
    },
    grid: grids,
    xAxis: xAxes,
    yAxis: yAxes,
    series: series
  };

  myChart.setOption(option);

});
</script>
</body>
</html>
